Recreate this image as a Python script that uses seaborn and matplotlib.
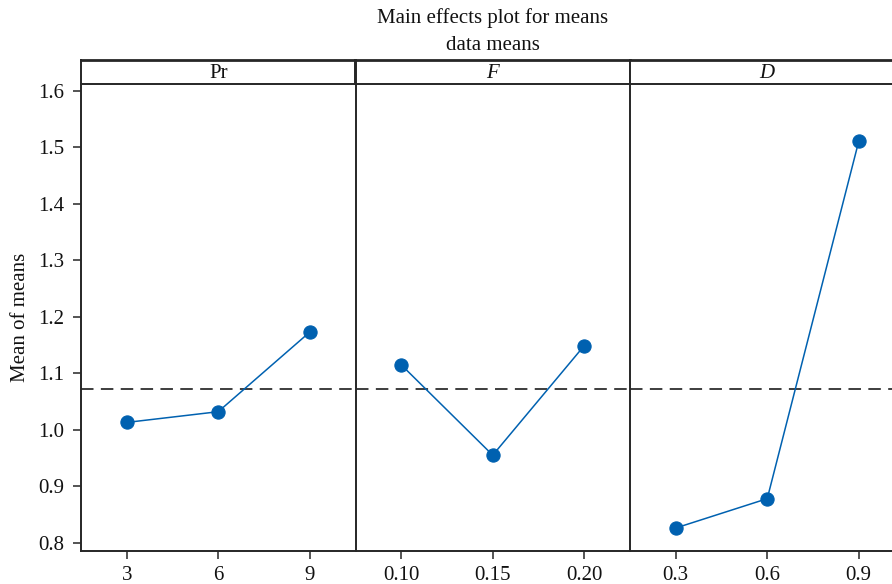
import matplotlib
matplotlib.use("Agg")
import matplotlib.pyplot as plt
import seaborn as sns
import numpy as np

# Factor levels and the mean response at each level
pr_levels = ["3", "6", "9"]
pr_means = [1.013, 1.032, 1.173]

f_levels = ["0.10", "0.15", "0.20"]
f_means = [1.115, 0.955, 1.149]

d_levels = ["0.3", "0.6", "0.9"]
d_means = [0.826, 0.878, 1.511]

factor_names = ["Pr", "F", "D"]
factor_styles = ["normal", "italic", "italic"]
y_ticks = [0.8, 0.9, 1.0, 1.1, 1.2, 1.3, 1.4, 1.5, 1.6]

grand_mean = np.mean(pr_means + f_means + d_means)

sns.set_theme(style="white")
plt.rcParams["font.family"] = ["Liberation Serif", "DejaVu Serif"]
plt.rcParams["lines.scale_dashes"] = False

line_color = "#0061B0"
frame_color = "#262626"
text_color = "#111111"
fs = 15

W, H = 892, 584
fig = plt.figure(figsize=(W / 100, H / 100), dpi=100)

x0, panel_w = 81, 274.5
y_top, y_bot = 84, 550.7
head_top = 59.5

panels = [(pr_levels, pr_means), (f_levels, f_means), (d_levels, d_means)]
axes = []
for i, (levels, means) in enumerate(panels):
    left = (x0 + i * panel_w) / W
    ax = fig.add_axes([left, 1 - y_bot / H, panel_w / W, (y_bot - y_top) / H],
                      sharey=axes[0] if axes else None)
    axes.append(ax)
    sns.pointplot(x=levels, y=means, ax=ax, color=line_color, markers="o",
                  linestyles="-", errorbar=None, markersize=9.5, linewidth=1.1)
    ax.axhline(grand_mean, color=frame_color, lw=1.25, linestyle=(0, (9, 5.3)), zorder=0)
    ax.set_xlim(-0.5, len(levels) - 0.5)
    ax.set_ylim(0.7858, 1.6124)
    ax.set_yticks(y_ticks)
    ax.set_yticklabels([f"{v:.1f}" for v in y_ticks])
    ax.set_xlabel("")
    ax.set_ylabel("")
    for side in ["top", "right"]:
        ax.spines[side].set_visible(False)
    for side in ["left", "bottom"]:
        ax.spines[side].set_color(frame_color)
        ax.spines[side].set_linewidth(1.4)
    ax.tick_params(axis="x", bottom=True, direction="out", length=6, width=1.1,
                   color=frame_color, labelsize=fs, pad=5, labelcolor=text_color)
    if i == 0:
        ax.tick_params(axis="y", left=True, direction="out", length=6, width=1.1,
                       color=frame_color, labelsize=fs, pad=6, labelcolor=text_color)
    else:
        ax.tick_params(axis="y", left=False, labelleft=False)

    # Strip header with the factor name
    hax = fig.add_axes([left, 1 - y_top / H, panel_w / W, (y_top - head_top) / H])
    hax.set_xticks([])
    hax.set_yticks([])
    hax.set_facecolor("white")
    for side in hax.spines:
        hax.spines[side].set_color(frame_color)
        hax.spines[side].set_linewidth(1.4)
    hax.spines["top"].set_linewidth(2.0)
    hax.text(0.5, 0.42, factor_names[i], ha="center", va="center", fontsize=fs,
             style=factor_styles[i], color=text_color, transform=hax.transAxes)

axes[0].set_ylabel("Mean of means", fontsize=fs, color=text_color, labelpad=6)

cx = (x0 + x0 + 3 * panel_w) / 2 / W
fig.text(cx, 1 - 18 / H, "Main effects plot for means", ha="center", va="center",
         fontsize=fs, color=text_color)
fig.text(cx, 1 - 45 / H, "data means", ha="center", va="center",
         fontsize=fs, color=text_color)

fig.savefig("out.png", dpi=100)
